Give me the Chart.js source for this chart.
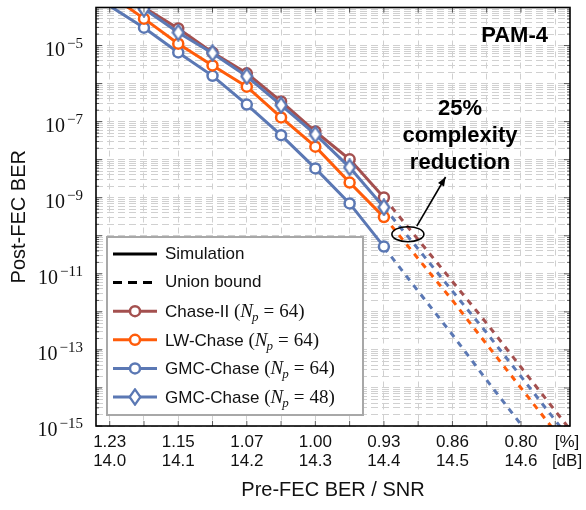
<!DOCTYPE html>
<html>
<head>
<meta charset="utf-8">
<script src="https://cdn.jsdelivr.net/npm/chart.js@4.4.1/dist/chart.umd.min.js"></script>
<style>
  body { margin: 0; background: #fff; }
  canvas { display: block; }
</style>
</head>
<body>
<canvas id="myChart" width="586" height="510"></canvas>
<script>
// simulation points (SNR in dB)
const snr = [14.0, 14.05, 14.1, 14.15, 14.2, 14.25, 14.3, 14.35, 14.4];
const chaseII64 = [3.2e-4, 1.0e-4, 2.8e-5, 6.6e-6, 1.86e-6, 3.4e-7, 5.5e-8, 1.02e-8, 1.02e-9];
const lwChase64 = [2.2e-4, 5.1e-5, 1.12e-5, 3.0e-6, 8.3e-7, 1.29e-7, 2.2e-8, 2.5e-9, 3.1e-10];
const gmcChase64 = [1.1e-4, 2.95e-5, 6.6e-6, 1.6e-6, 2.8e-7, 4.4e-8, 5.9e-9, 7.1e-10, 5.2e-11];
const gmcChase48 = [3.5e-4, 9.3e-5, 2.2e-5, 6.3e-6, 1.55e-6, 2.7e-7, 4.6e-8, 6.3e-9, 5.6e-10];

// union bound
const ubSnr = [14.4, 14.45, 14.5, 14.55, 14.6, 14.65, 14.7];
const ubChaseII64 = [1.0e-9, 7.9e-11, 6.3e-12, 5.0e-13, 3.5e-14, 2.5e-15, 1.8e-16];
const ubLwChase64 = [3.2e-10, 2.5e-11, 2.0e-12, 1.4e-13, 1.0e-14, 7.1e-16, 5.0e-17];
const ubGmcChase64 = [5.0e-11, 3.5e-12, 2.5e-13, 1.6e-14, 1.1e-15, 7.9e-17];
const ubGmcChase48 = [5.6e-10, 4.5e-11, 3.5e-12, 2.8e-13, 2.0e-14, 1.4e-15, 1.0e-16];

// tick labels
const dbTicks = ['14.0', '14.1', '14.2', '14.3', '14.4', '14.5', '14.6'];
const berTicks = ['1.23', '1.15', '1.07', '1.00', '0.93', '0.86', '0.80'];
const yLabelExps = [-15, -13, -11, -9, -7, -5];

const legendNames = ['Chase-II', 'LW-Chase', 'GMC-Chase', 'GMC-Chase'];
const legendNp = ['64', '64', '64', '48'];

const cBrown = '#a4504f';
const cOrange = '#ff5c0a';
const cBlue = '#5b78b4';
const SANS = 'Liberation Sans, Arial, sans-serif';
const SERIF = 'Liberation Serif, Times New Roman, serif';

// tall diamond marker
const diamond = document.createElement('canvas');
diamond.width = 14; diamond.height = 18;
(function () {
  const d = diamond.getContext('2d');
  d.beginPath();
  d.moveTo(7, 1.4); d.lineTo(12.4, 9); d.lineTo(7, 16.6); d.lineTo(1.6, 9); d.closePath();
  d.fillStyle = '#fff'; d.fill();
  d.lineWidth = 2.3; d.strokeStyle = cBlue; d.stroke();
})();

function pts(xs, ys) {
  return ys.map((v, i) => ({x: xs[i], y: v}));
}

const hideFirst = c => c.dataIndex === 0 ? 0 : 5;

function sim(values, color, style) {
  return {
    data: pts(snr, values),
    borderColor: color,
    borderWidth: 3,
    pointStyle: style,
    pointRadius: hideFirst,
    pointBorderWidth: 2.5,
    pointBorderColor: color,
    pointBackgroundColor: '#fff'
  };
}

function ub(values, color) {
  return {
    data: pts(ubSnr, values),
    borderColor: color,
    borderWidth: 3,
    borderDash: [6, 6],
    pointRadius: 0
  };
}

const datasets = [
  sim(gmcChase48, cBlue, diamond),
  sim(chaseII64, cBrown, 'circle'),
  sim(lwChase64, cOrange, 'circle'),
  sim(gmcChase64, cBlue, 'circle'),
  ub(ubChaseII64, cBrown),
  ub(ubGmcChase48, cBlue),
  ub(ubLwChase64, cOrange),
  ub(ubGmcChase64, cBlue)
];

function seg(ctx, x1, y1, x2, y2) {
  ctx.beginPath(); ctx.moveTo(x1, y1); ctx.lineTo(x2, y2); ctx.stroke();
}

const decor = {
  id: 'decor',
  afterDraw(chart) {
    const {ctx, chartArea: ca} = chart;
    const xs = chart.scales.x, ys = chart.scales.y;
    ctx.save();

    // inward tick marks
    ctx.strokeStyle = '#333';
    ctx.lineWidth = 0.8;
    ys.ticks.forEach(t => {
      const py = ys.getPixelForValue(t.value);
      const lg = Math.log10(t.value);
      const len = Math.abs(lg - Math.round(lg)) < 1e-6 ? 6 : 3;
      seg(ctx, ca.left, py, ca.left + len, py);
      seg(ctx, ca.right, py, ca.right - len, py);
    });
    xs.ticks.forEach(t => {
      const px = xs.getPixelForValue(t.value);
      seg(ctx, px, ca.bottom, px, ca.bottom - 5);
      seg(ctx, px, ca.top, px, ca.top + 5);
    });

    // frame
    ctx.strokeStyle = '#000';
    ctx.lineWidth = 1.6;
    ctx.strokeRect(ca.left, ca.top, ca.width, ca.height);

    // y tick labels 10^e
    ctx.fillStyle = '#111';
    ctx.textAlign = 'left';
    ctx.textBaseline = 'alphabetic';
    yLabelExps.forEach(e => {
      const py = ys.getPixelForValue(Number('1e' + e));
      const exp = '\u2212' + (-e);
      ctx.font = '20px ' + SERIF;
      const w1 = ctx.measureText('10').width;
      ctx.font = '15px ' + SERIF;
      const w2 = ctx.measureText(exp).width;
      const x0 = ca.left - 13 - w1 - w2 - 2;
      ctx.font = '20px ' + SERIF;
      ctx.fillText('10', x0, py + 10);
      ctx.font = '15px ' + SERIF;
      ctx.fillText(exp, x0 + w1 + 2, py + 2);
    });

    // x unit labels
    ctx.font = '17px ' + SANS;
    ctx.textAlign = 'center';
    ctx.textBaseline = 'middle';
    ctx.fillText('[%]', ca.right - 3, ca.bottom + 16);
    ctx.fillText('[dB]', ca.right - 3, ca.bottom + 35);

    // annotations
    ctx.fillStyle = '#000';
    ctx.font = 'bold 22px ' + SANS;
    ctx.textAlign = 'right';
    ctx.fillText('PAM-4', ca.right - 22, ca.top + 28);
    ctx.textAlign = 'center';
    const tx = xs.getPixelForValue(14.511);
    const ty = ys.getPixelForValue(2.2e-7);
    ctx.fillText('25%', tx, ty);
    ctx.fillText('complexity', tx, ty + 27);
    ctx.fillText('reduction', tx, ty + 54);

    // ellipse + arrow
    ctx.strokeStyle = '#000';
    ctx.lineWidth = 1.6;
    const ex = xs.getPixelForValue(14.435), ey = ys.getPixelForValue(1.1e-10);
    ctx.beginPath(); ctx.ellipse(ex, ey, 16, 7.5, 0, 0, 2 * Math.PI); ctx.stroke();
    const a0x = xs.getPixelForValue(14.448), a0y = ys.getPixelForValue(1.8e-10);
    const a1x = xs.getPixelForValue(14.49), a1y = ys.getPixelForValue(3.5e-9);
    seg(ctx, a0x, a0y, a1x, a1y);
    const ang = Math.atan2(a1y - a0y, a1x - a0x);
    ctx.beginPath();
    ctx.moveTo(a1x, a1y);
    ctx.lineTo(a1x - 9 * Math.cos(ang) + 3.5 * Math.sin(ang), a1y - 9 * Math.sin(ang) - 3.5 * Math.cos(ang));
    ctx.lineTo(a1x - 9 * Math.cos(ang) - 3.5 * Math.sin(ang), a1y - 9 * Math.sin(ang) + 3.5 * Math.cos(ang));
    ctx.closePath();
    ctx.fillStyle = '#000'; ctx.fill();

    // legend
    const lx = ca.left + 11, lw = 256, lh = 178;
    const ly = ca.bottom - 11 - lh;
    ctx.fillStyle = '#fff';
    ctx.fillRect(lx, ly, lw, lh);
    ctx.strokeStyle = '#a8a8a8';
    ctx.lineWidth = 2;
    ctx.strokeRect(lx, ly, lw, lh);
    const rowY = i => ly + 17 + i * 28.6;
    const s0 = lx + 6, s1 = lx + 50, sm = lx + 28, tX = lx + 58;
    ctx.textAlign = 'left';
    ctx.textBaseline = 'middle';
    ctx.lineWidth = 3;
    ctx.strokeStyle = '#000';
    seg(ctx, s0, rowY(0), s1, rowY(0));
    ctx.setLineDash([9, 6]);
    seg(ctx, s0, rowY(1), s1, rowY(1));
    ctx.setLineDash([]);
    ctx.fillStyle = '#111';
    ctx.font = '17px ' + SANS;
    ctx.fillText('Simulation', tX, rowY(0));
    ctx.fillText('Union bound', tX, rowY(1));
    const cols = [cBrown, cOrange, cBlue, cBlue];
    legendNames.forEach((name, k) => {
      const yy = rowY(k + 2);
      ctx.strokeStyle = cols[k];
      ctx.lineWidth = 3;
      seg(ctx, s0, yy, s1, yy);
      if (k === 3) {
        ctx.drawImage(diamond, sm - diamond.width / 2, yy - diamond.height / 2);
      } else {
        ctx.beginPath(); ctx.arc(sm, yy, 5, 0, 2 * Math.PI);
        ctx.fillStyle = '#fff'; ctx.fill();
        ctx.lineWidth = 2.5; ctx.stroke();
      }
      ctx.fillStyle = '#111';
      ctx.textBaseline = 'alphabetic';
      const by = yy + 6;
      let cx = tX;
      ctx.font = '17px ' + SANS;
      ctx.fillText(name + ' ', cx, by); cx += ctx.measureText(name + ' ').width;
      ctx.font = '19px ' + SERIF;
      ctx.fillText('(', cx, by); cx += ctx.measureText('(').width;
      ctx.font = 'italic 19px ' + SERIF;
      ctx.fillText('N', cx, by); cx += ctx.measureText('N').width - 1;
      ctx.font = 'italic 13px ' + SERIF;
      ctx.fillText('p', cx, by + 4); cx += ctx.measureText('p').width + 5;
      ctx.font = '19px ' + SERIF;
      ctx.fillText('=', cx, by); cx += ctx.measureText('=').width + 5;
      ctx.fillText(legendNp[k] + ')', cx, by);
    });

    ctx.restore();
  }
};

const ctx = document.getElementById('myChart').getContext('2d');
new Chart(ctx, {
  type: 'line',
  data: {datasets: datasets},
  options: {
    responsive: false,
    animation: false,
    events: [],
    layout: {padding: {top: 7, right: 16, left: 0, bottom: 0}},
    plugins: {legend: {display: false}, tooltip: {enabled: false}},
    scales: {
      x: {
        type: 'linear',
        min: 13.98,
        max: 14.6715,
        afterBuildTicks: s => {
          const t = [];
          for (let i = 0; i <= 13; i++) t.push({value: Number((14 + i * 0.05).toFixed(2))});
          s.ticks = t;
        },
        afterFit: s => { s.height = 84; },
        ticks: {
          autoSkip: false,
          maxRotation: 0,
          padding: 7,
          color: '#111',
          font: {family: SANS, size: 17, lineHeight: 1.12},
          callback: v => {
            const i = dbTicks.findIndex(d => Math.abs(Number(d) - v) < 1e-6);
            return i < 0 ? '' : [berTicks[i], dbTicks[i]];
          }
        },
        grid: {color: '#d0d0d0', lineWidth: 1, drawTicks: false},
        border: {display: false, dash: [6, 5]},
        title: {
          display: true,
          text: 'Pre-FEC BER / SNR',
          color: '#111',
          font: {family: SANS, size: 20},
          padding: {top: 4, bottom: 8}
        }
      },
      y: {
        type: 'logarithmic',
        min: 1e-15,
        max: 1e-4,
        afterBuildTicks: s => {
          const t = [];
          for (let e = -15; e <= -5; e++) {
            for (let m = 1; m <= 9; m++) t.push({value: Number(m + 'e' + e)});
          }
          t.push({value: 1e-4});
          s.ticks = t;
        },
        afterFit: s => { s.width = 96; },
        ticks: {display: false},
        grid: {color: '#d0d0d0', lineWidth: 1, drawTicks: false},
        border: {display: false, dash: [7, 4]},
        title: {
          display: true,
          text: 'Post-FEC BER',
          color: '#111',
          font: {family: SANS, size: 20},
          padding: {top: 7, bottom: 0}
        }
      }
    }
  },
  plugins: [decor]
});
</script>
</body>
</html>
